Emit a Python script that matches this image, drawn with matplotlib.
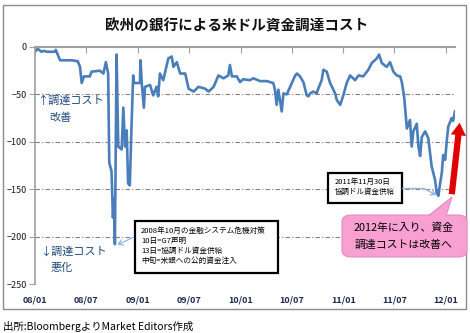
import numpy as np
import pandas as pd
import matplotlib
matplotlib.use("Agg")
import matplotlib.pyplot as plt
import matplotlib.dates as mdates
from matplotlib.patches import Rectangle, FancyBboxPatch, Polygon, FancyArrowPatch
from matplotlib.lines import Line2D

plt.rcParams['font.family'] = ['Noto Sans CJK JP', 'DejaVu Sans']

# データ (チャートから読み取り)
dates = [
    "2008-01-01", "2008-01-07", "2008-01-11", "2008-01-24", "2008-02-02", "2008-02-11",
    "2008-02-23", "2008-03-12", "2008-03-15", "2008-03-30", "2008-04-22", "2008-05-11",
    "2008-06-01", "2008-06-09", "2008-06-15", "2008-06-23", "2008-07-14", "2008-07-20",
    "2008-08-19", "2008-08-31", "2008-09-09", "2008-09-17", "2008-09-21", "2008-09-29",
    "2008-10-04", "2008-10-08", "2008-10-11", "2008-10-17", "2008-10-23", "2008-11-04",
    "2008-11-10", "2008-11-16", "2008-11-22", "2008-11-27", "2008-12-03", "2008-12-09",
    "2008-12-15", "2008-12-18", "2009-01-08", "2009-01-10", "2009-01-15", "2009-01-22",
    "2009-01-26", "2009-02-13", "2009-02-24", "2009-03-08", "2009-03-14", "2009-03-20",
    "2009-04-01", "2009-04-19", "2009-05-01", "2009-05-07", "2009-05-19", "2009-05-31",
    "2009-06-18", "2009-06-30", "2009-07-18", "2009-08-04", "2009-08-28", "2009-09-09",
    "2009-09-27", "2009-10-14", "2009-11-01", "2009-11-18", "2009-11-24", "2009-12-01",
    "2009-12-18", "2009-12-30", "2010-01-10", "2010-02-03", "2010-02-15", "2010-03-11",
    "2010-04-04", "2010-04-27", "2010-05-03", "2010-05-09", "2010-05-15", "2010-05-27",
    "2010-06-02", "2010-06-14", "2010-07-02", "2010-07-14", "2010-07-20", "2010-07-31",
    "2010-08-12", "2010-08-24", "2010-08-30", "2010-09-05", "2010-09-16", "2010-09-28",
    "2010-10-04", "2010-10-16", "2010-10-22", "2010-11-03", "2010-11-15", "2010-12-03",
    "2010-12-09", "2010-12-21", "2011-01-01", "2011-01-13", "2011-01-25", "2011-02-12",
    "2011-02-24", "2011-03-13", "2011-03-31", "2011-04-12", "2011-04-30", "2011-05-08",
    "2011-05-18", "2011-06-04", "2011-06-16", "2011-06-28", "2011-07-10", "2011-07-22",
    "2011-07-28", "2011-08-05", "2011-08-15", "2011-08-26", "2011-09-01", "2011-09-07",
    "2011-09-19", "2011-09-25", "2011-10-01", "2011-10-07", "2011-10-19", "2011-10-30",
    "2011-11-11", "2011-11-23", "2011-11-29", "2011-12-05", "2011-12-11", "2011-12-17",
    "2011-12-22", "2011-12-29", "2012-01-04", "2012-01-09", "2012-01-21", "2012-01-26",
    "2012-02-02",
]
cost = [
    -5, -3, -2, -5, -4, -5,
    -5, -5, -3, -14, -14, -14,
    -15, -21, -38, -31, -31, -26,
    -25, -28, -16, -28, -122, -131,
    -180, -160, -208, -8, -105, -108,
    -64, -105, -88, -144, -146, -84,
    -30, -38, -38, -14, -40, -64,
    -42, -40, -51, -42, -52, -28,
    -35, -12, -10, -21, -16, -28,
    -28, -44, -47, -42, -44, -47,
    -42, -30, -33, -30, -19, -31,
    -31, -37, -34, -35, -33, -36,
    -36, -38, -45, -61, -45, -68,
    -49, -50, -38, -30, -28, -31,
    -37, -51, -52, -49, -47, -49,
    -44, -35, -24, -26, -38, -49,
    -56, -61, -51, -38, -30, -35,
    -30, -31, -24, -17, -12, -8,
    -17, -21, -16, -26, -30, -31,
    -37, -52, -86, -77, -105, -89,
    -81, -105, -115, -95, -89, -96,
    -126, -140, -154, -157, -144, -133,
    -114, -119, -98, -84, -75, -78,
    -68,
]

x_ticks = ["2008-01-01", "2008-07-01", "2009-01-01", "2009-07-01", "2010-01-01",
           "2010-07-01", "2011-01-01", "2011-07-01", "2012-01-01"]
y_ticks = [0, -50, -100, -150, -200, -250]

W, H = 470, 333
def fx(x):
    return x / W
def fy(y):
    return 1 - y / H

fig = plt.figure(figsize=(W / 100, H / 100), dpi=100)

# 外枠
fig.patches.append(Rectangle((fx(3), fy(309)), fx(466) - fx(3), fy(5) - fy(309),
                             transform=fig.transFigure, fill=False,
                             edgecolor="#8c8c8c", lw=1))

ax = fig.add_axes([fx(35), fy(284), fx(455) - fx(35), fy(47) - fy(284)])
ax.plot(pd.to_datetime(dates), cost, color="#4a7ebb", lw=1.9, solid_joinstyle="round")

ax.set_xlim(pd.Timestamp("2008-01-01"), pd.Timestamp("2012-02-02"))
ax.set_ylim(-250, 0)
ax.set_xticks(pd.to_datetime(x_ticks))
ax.xaxis.set_major_formatter(mdates.DateFormatter("%y/%m"))
ax.set_yticks(y_ticks)

for s in ["right", "bottom"]:
    ax.spines[s].set_visible(False)
ax.spines["top"].set_color("#a0a0a0")
ax.spines["top"].set_linewidth(1.5)
ax.spines["left"].set_color("#a0a0a0")
ax.spines["left"].set_linewidth(1.2)

ax.tick_params(axis="x", bottom=False, top=True, direction="in", length=4,
               color="#a0a0a0", labelbottom=True, labeltop=False, pad=8,
               labelsize=6.5, labelcolor="#1f2a50")
ax.tick_params(axis="y", direction="out", length=4, color="#a0a0a0", pad=2,
               labelsize=6.5, labelcolor="#1a1a1a")
for lab in ax.get_xticklabels():
    lab.set_fontweight("bold")

for v in y_ticks[1:-1]:
    ax.axhline(v, color="#808080", lw=0.8, ls=(0, (4, 2, 1, 2)), zorder=0)

# タイトル
fig.text(fx(237), fy(25), "欧州の銀行による米ドル資金調達コスト", ha="center", va="center",
         fontsize=10.5, fontweight="bold", color="#111111")

# 注記
blue = "#1f497d"
fig.text(fx(37), fy(101), "↑調達コスト", fontsize=8, color=blue, va="center")
fig.text(fx(49), fy(118), "改善", fontsize=8, color=blue, va="center")
fig.text(fx(40), fy(252), "↓調達コスト", fontsize=8, color=blue, va="center")
fig.text(fx(51), fy(268), "悪化", fontsize=8, color=blue, va="center")

# 2008年の注記ボックス
fig.patches.append(Rectangle((fx(135), fy(273)), fx(278) - fx(135), fy(221) - fy(273),
                             transform=fig.transFigure, facecolor="white",
                             edgecolor="black", lw=1.6, zorder=3))
box1 = ["2008年10月の金融システム危機対策", "10日=G7声明", "13日=協調ドル資金供給", "中旬=米銀への公的資金注入"]
for i, t in enumerate(box1):
    fig.text(fx(141), fy(231 + 10 * i), t, fontsize=5.5, va="center", color="black", zorder=4)
fig.patches.append(FancyArrowPatch((fx(135), fy(236.5)), (fx(115), fy(246)),
                                   transform=fig.transFigure, arrowstyle="->,head_length=3,head_width=2",
                                   color="#8db3e2", lw=0.9, zorder=4))

# 2011年の注記ボックス
fig.patches.append(Rectangle((fx(328), fy(203)), fx(402) - fx(328), fy(173) - fy(203),
                             transform=fig.transFigure, facecolor="white",
                             edgecolor="black", lw=1.6, zorder=3))
fig.text(fx(335), fy(182), "2011年11月30日", fontsize=5.4, va="center", color="black", zorder=4)
fig.text(fx(335), fy(192), "協調ドル資金供給", fontsize=5.4, va="center", color="black", zorder=4)
fig.lines.append(Line2D([fx(402), fx(424)], [fy(188.5), fy(188.5)], transform=fig.transFigure,
                        color="#8db3e2", lw=0.9, zorder=4))
fig.patches.append(FancyArrowPatch((fx(424), fy(188.5)), (fx(436), fy(195)),
                                   transform=fig.transFigure, arrowstyle="->,head_length=3,head_width=2",
                                   shrinkA=0, shrinkB=0, color="#8db3e2", lw=0.9, zorder=4))

# 赤い矢印
fig.patches.append(FancyArrowPatch((fx(451.5), fy(197)), (fx(460), fy(120)),
                                   transform=fig.transFigure,
                                   arrowstyle="simple,head_length=0.9,head_width=1.1,tail_width=0.45",
                                   mutation_scale=10, color="#e00000", lw=0, zorder=5))

# ピンクの吹き出し
pink = "#f9a0d2"
fig.patches.append(Polygon([(fx(428), fy(216)), (fx(446), fy(216)), (fx(452), fy(197))],
                           closed=True, transform=fig.transFigure, facecolor=pink,
                           edgecolor="#e888c0", lw=0.8, zorder=5))
fig.patches.append(FancyBboxPatch((fx(342), fy(257)), fx(467) - fx(342), fy(215) - fy(257),
                                  boxstyle="round,pad=0,rounding_size=0.02",
                                  transform=fig.transFigure, facecolor=pink,
                                  edgecolor="#e888c0", lw=0.8, zorder=5))
fig.patches.append(Polygon([(fx(429), fy(217)), (fx(445), fy(217)), (fx(451), fy(199))],
                           closed=True, transform=fig.transFigure, facecolor=pink,
                           edgecolor="none", zorder=6))
fig.text(fx(404), fy(228), "2012年に入り、資金", fontsize=7.8, ha="center", va="center",
         color="black", zorder=7)
fig.text(fx(404), fy(245), "調達コストは改善へ", fontsize=7.8, ha="center", va="center",
         color="black", zorder=7)

# 出所
fig.text(fx(3), fy(326), "出所:BloombergよりMarket Editors作成", fontsize=7.5, va="center",
         color="black")

fig.savefig("out.png", dpi=100)
